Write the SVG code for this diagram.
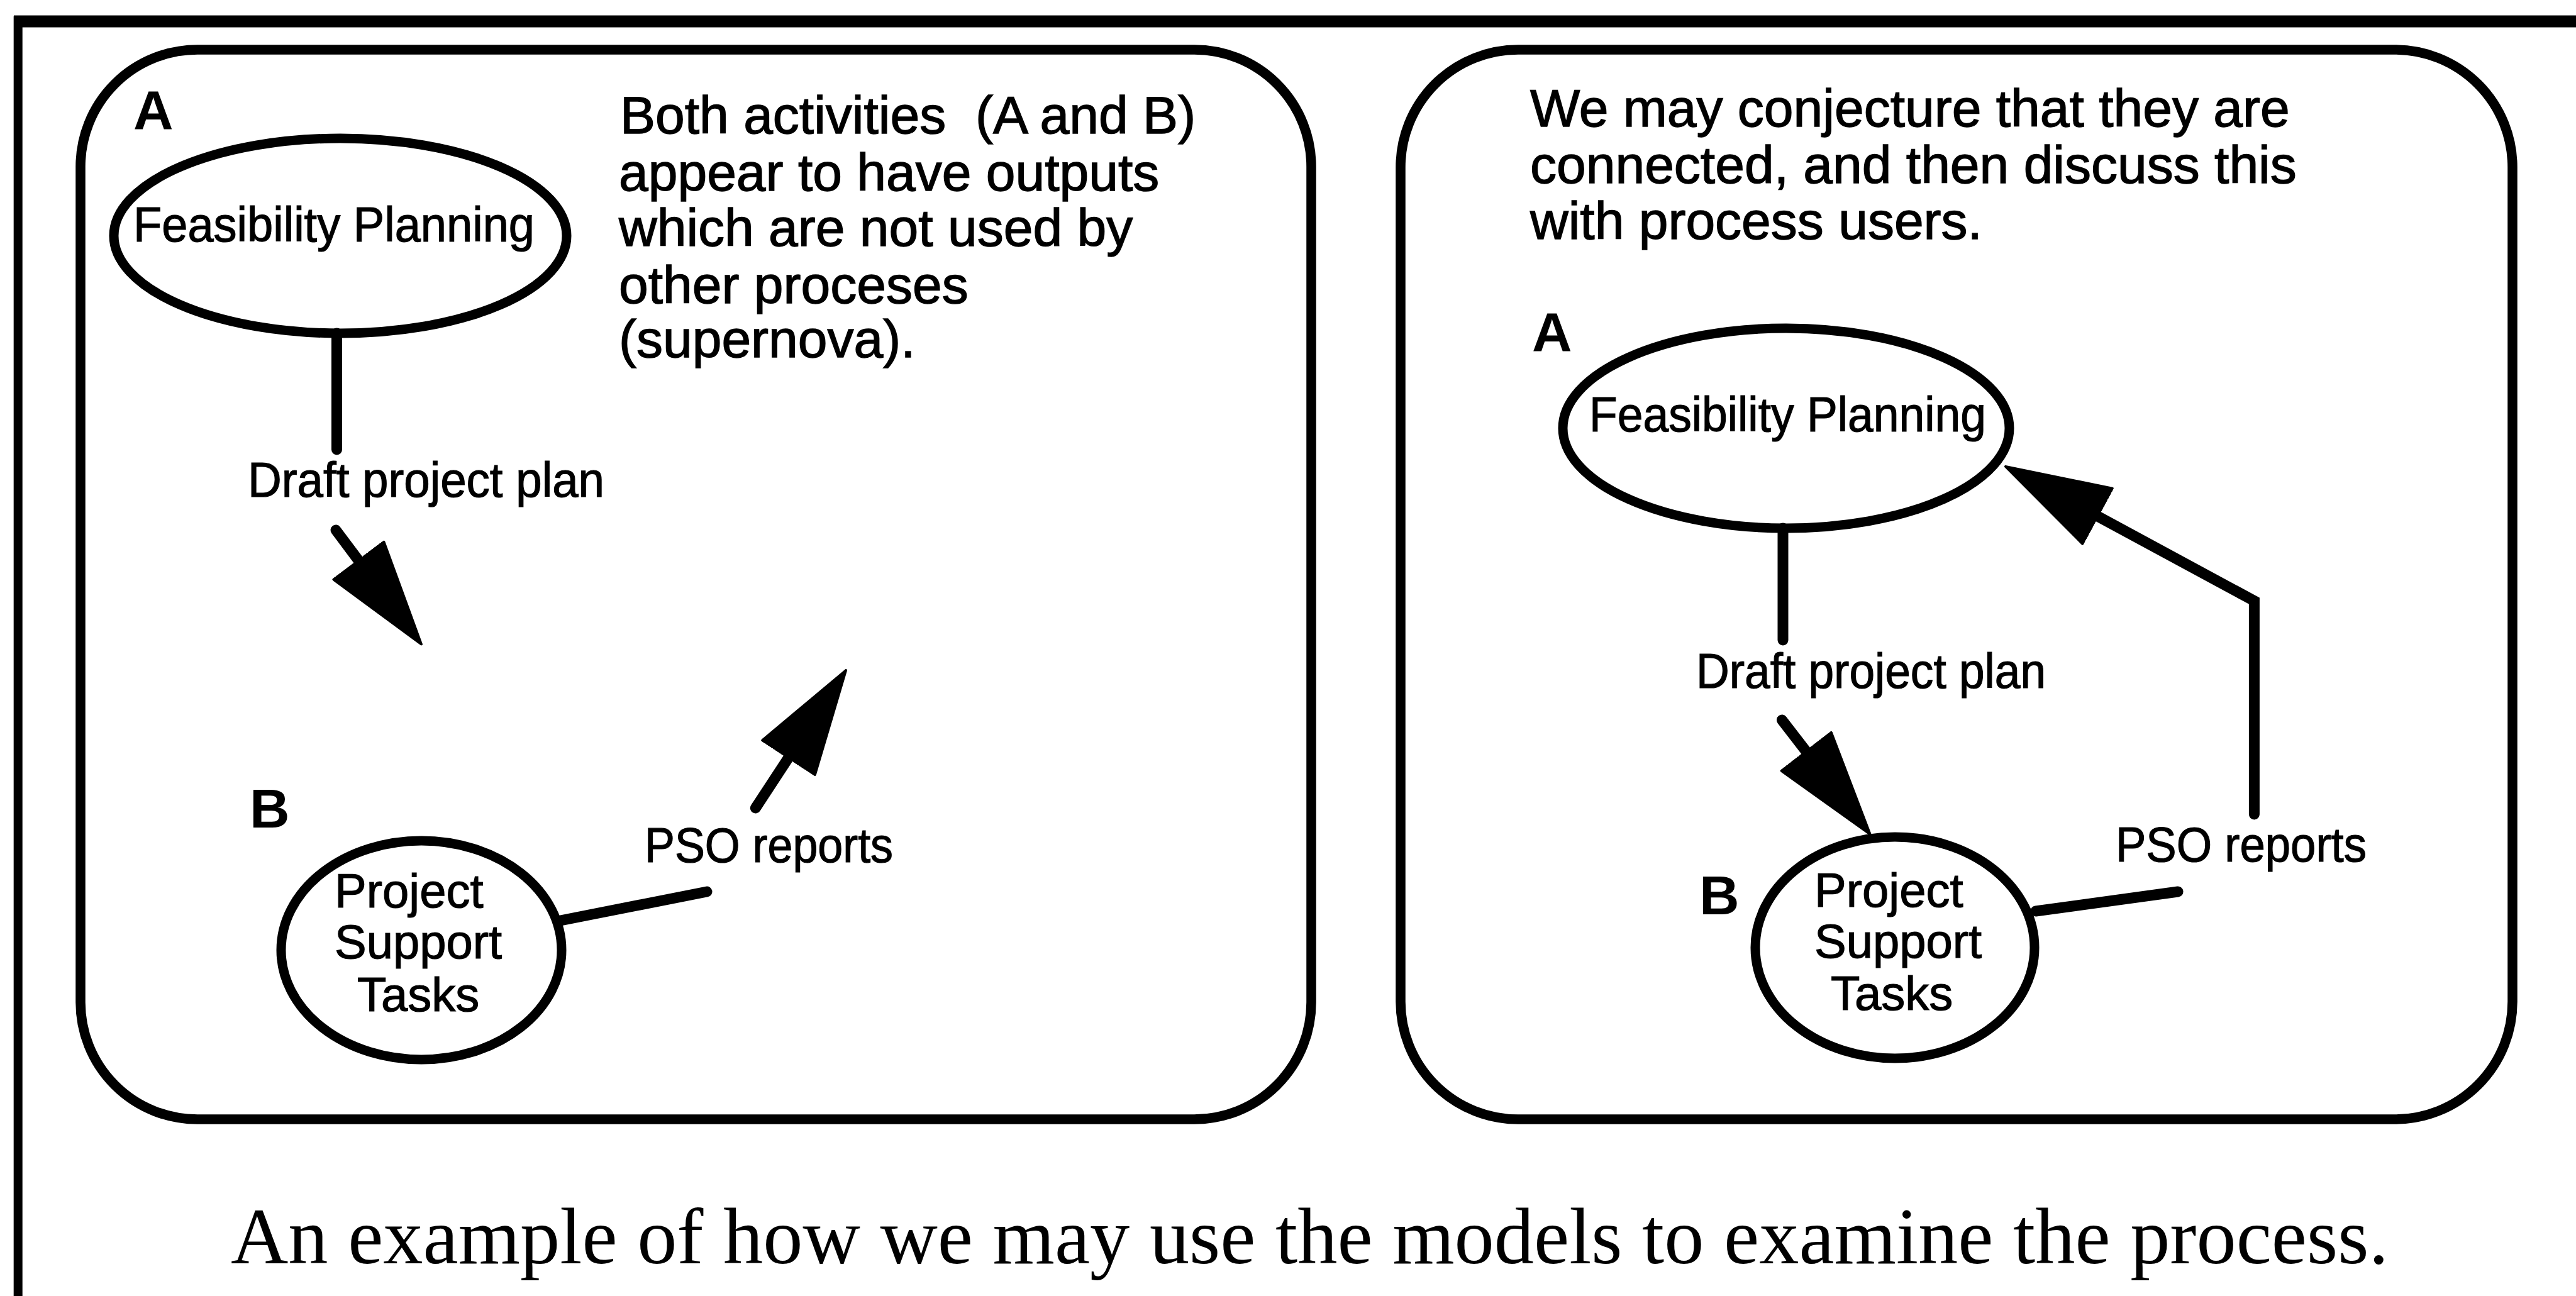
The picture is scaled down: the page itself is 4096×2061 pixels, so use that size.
<svg xmlns="http://www.w3.org/2000/svg" width="4096" height="2061" viewBox="0 0 4096 2061">
  <style>
    .frame { fill: none; stroke: #000; }
    .panel { fill: none; stroke: #000; stroke-width: 15.5; }
    .node { fill: #fff; stroke: #000; stroke-width: 15; }
    .label { font-family: "Liberation Sans", Arial, Helvetica, sans-serif; font-size: 78px; fill: #000; stroke: #000; stroke-width: 1.2; }
    .stack { font-family: "Liberation Sans", Arial, Helvetica, sans-serif; font-size: 76px; fill: #000; stroke: #000; stroke-width: 1.2; }
    .note { font-family: "Liberation Sans", Arial, Helvetica, sans-serif; font-size: 84px; fill: #000; stroke: #000; stroke-width: 1.4; }
    .tag { font-family: "Liberation Sans", Arial, Helvetica, sans-serif; font-size: 88px; font-weight: bold; fill: #000; }
    .caption { font-family: "Liberation Serif", "Times New Roman", serif; font-size: 128px; fill: #000; }
    .edge { fill: none; stroke: #000; stroke-width: 17; stroke-linecap: round; stroke-linejoin: miter; }
  </style>
  <defs>
    <marker id="head" viewBox="0 0 170 104" refX="2" refY="52" markerWidth="170" markerHeight="104" orient="auto" markerUnits="userSpaceOnUse">
      <path d="M2,2 L168,52 L2,102 Z" fill="#000" stroke="#000" stroke-width="4" stroke-linejoin="round"/>
    </marker>
  </defs>

  <rect width="4096" height="2061" fill="#fff"/>

  <!-- page frame: top and left rules -->
  <g id="page-frame" class="frame">
    <line x1="22" y1="34" x2="4096" y2="34" stroke-width="19"/>
    <line x1="28.7" y1="26" x2="28.7" y2="2061" stroke-width="14"/>
  </g>

  <!-- left panel -->
  <g id="panel-left">
    <rect class="panel" x="128" y="79" width="1957" height="1701" rx="186" ry="186"/>
    <text class="note" xml:space="preserve"><tspan x="986" y="212">Both activities  (A and B)</tspan><tspan x="984" y="303">appear to have outputs</tspan><tspan x="984" y="391">which are not used by</tspan><tspan x="984" y="482">other proceses</tspan><tspan x="984" y="568">(supernova).</tspan></text>
  </g>

  <g id="left-node-a">
    <text class="tag" x="212" y="205">A</text>
    <ellipse class="node" cx="541" cy="375" rx="360" ry="155"/>
    <text class="label" x="212" y="384" textLength="638" lengthAdjust="spacingAndGlyphs">Feasibility Planning</text>
  </g>

  <g id="left-node-b">
    <text class="tag" x="397" y="1316">B</text>
    <ellipse class="node" cx="670" cy="1511" rx="223" ry="174"/>
    <text class="stack"><tspan x="532" y="1443">Project</tspan><tspan x="532" y="1524">Support</tspan><tspan x="568" y="1608">Tasks</tspan></text>
  </g>

  <!-- right panel -->
  <g id="panel-right">
    <rect class="panel" x="2227" y="79" width="1768" height="1701" rx="187" ry="187"/>
    <text class="note"><tspan x="2433" y="201">We may conjecture that they are</tspan><tspan x="2433" y="291">connected, and then discuss this</tspan><tspan x="2433" y="380">with process users.</tspan></text>
  </g>

  <g id="right-node-a">
    <text class="tag" x="2436" y="558">A</text>
    <ellipse class="node" cx="2840" cy="681" rx="355" ry="159"/>
    <text class="label" x="2527" y="686" textLength="631" lengthAdjust="spacingAndGlyphs">Feasibility Planning</text>
  </g>

  <g id="right-node-b">
    <text class="tag" x="2702" y="1454">B</text>
    <ellipse class="node" cx="3013" cy="1507" rx="222" ry="176"/>
    <text class="stack"><tspan x="2885" y="1442">Project</tspan><tspan x="2885" y="1523">Support</tspan><tspan x="2911" y="1606">Tasks</tspan></text>
  </g>

  <!-- connectors and their labels -->
  <g id="connectors">
    <!-- left panel: outputs with no consumer -->
    <line class="edge" x1="535.5" y1="530" x2="535.5" y2="715"/>
    <text class="label" x="394" y="790" textLength="567" lengthAdjust="spacingAndGlyphs">Draft project plan</text>
    <line class="edge" x1="534" y1="843" x2="570.4" y2="891.6" marker-end="url(#head)"/>

    <line class="edge" x1="891" y1="1464" x2="1124" y2="1418"/>
    <text class="label" x="1025" y="1371" textLength="395" lengthAdjust="spacingAndGlyphs">PSO reports</text>
    <line class="edge" x1="1201.3" y1="1285" x2="1254" y2="1204.7" marker-end="url(#head)"/>

    <!-- right panel: conjectured connection -->
    <line class="edge" x1="2835" y1="840" x2="2835" y2="1018"/>
    <text class="label" x="2697" y="1094" textLength="556" lengthAdjust="spacingAndGlyphs">Draft project plan</text>
    <line class="edge" x1="2833.4" y1="1145" x2="2872.2" y2="1195.3" marker-end="url(#head)"/>

    <line class="edge" x1="3237" y1="1449" x2="3463" y2="1418"/>
    <text class="label" x="3364" y="1370" textLength="399" lengthAdjust="spacingAndGlyphs">PSO reports</text>
    <path class="edge" d="M3584.4,1295 V955.6 L3335,820.8" marker-end="url(#head)"/>
  </g>

  <text class="caption" x="367" y="2009" textLength="3431" lengthAdjust="spacingAndGlyphs">An example of how we may use the models to examine the process.</text>
</svg>
